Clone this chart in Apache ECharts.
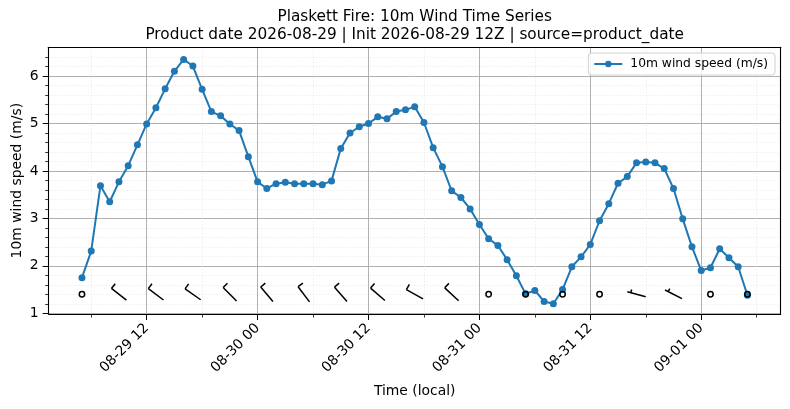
<!DOCTYPE html>
<html>
<head>
<meta charset="utf-8">
<script src="https://cdn.jsdelivr.net/npm/echarts@6/dist/echarts.min.js"></script>
<style>
  html, body { margin: 0; padding: 0; background: #fff; }
  #chart { width: 790px; height: 409px; }
</style>
</head>
<body>
<div id="chart"></div>
<script>
// Plaskett Fire 10m wind: hourly speed line + 4-hourly wind barbs

const titleLines = [
    'Plaskett Fire: 10m Wind Time Series',
    'Product date 2026-08-29 | Init 2026-08-29 12Z | source=product_date',
];

// hourly samples, first one at 2026-08-29 05:00 local
const speedStart = '2026-08-29 05:00';
const speeds = [
    1.75, 2.31, 3.69, 3.35, 3.77, 4.11, 4.55, 4.99, 5.33, 5.73, 6.10, 6.35, 6.21, 5.72, 5.25, 5.16, 4.99, 4.85, 4.30,
    3.77, 3.63, 3.73, 3.76, 3.73, 3.73, 3.73, 3.71, 3.79, 4.47, 4.80, 4.93, 5.00, 5.14, 5.10, 5.25, 5.29, 5.35, 5.02, 4.49, 4.09, 3.58, 3.44, 3.20,
    2.87, 2.57, 2.43, 2.13, 1.79, 1.41, 1.48, 1.25, 1.20, 1.50, 1.98, 2.19, 2.45, 2.95, 3.31, 3.74, 3.88, 4.17, 4.19, 4.17, 4.05, 3.63, 2.99, 2.40,
    1.90, 1.96, 2.36, 2.17, 1.98, 1.38,
];

// wind barbs: time, direction wind comes from (deg), barb speed (kt)
const barbTimes = [
    '2026-08-29 05:00', '2026-08-29 09:00', '2026-08-29 13:00', '2026-08-29 17:00', '2026-08-29 21:00',
    '2026-08-30 01:00', '2026-08-30 05:00', '2026-08-30 09:00', '2026-08-30 13:00', '2026-08-30 17:00', '2026-08-30 21:00',
    '2026-08-31 01:00', '2026-08-31 05:00', '2026-08-31 09:00', '2026-08-31 13:00', '2026-08-31 17:00', '2026-08-31 21:00',
    '2026-09-01 01:00', '2026-09-01 05:00',
];
const barbDirs = [0, 308, 307, 305, 315, 320, 323, 319, 311, 299, 313, 0, 0, 0, 0, 285, 297, 0, 0];
const barbKts  = [0, 10, 10, 10, 10, 10, 10, 10, 10, 10, 10, 0, 0, 0, 0, 5, 5, 0, 0];
const barbLevel = 1.4;

// axis extents (local time) and ticks
const xRange = ['2026-08-29 01:24', '2026-09-01 08:36'];
const xMajor = ['2026-08-29 12:00', '2026-08-30 00:00', '2026-08-30 12:00', '2026-08-31 00:00', '2026-08-31 12:00', '2026-09-01 00:00'];
const xMinor = ['2026-08-29 06:00', '2026-08-29 18:00', '2026-08-30 06:00', '2026-08-30 18:00', '2026-08-31 06:00', '2026-08-31 18:00', '2026-09-01 06:00'];
const yRange = [0.985, 6.605];
const yMajor = [1, 2, 3, 4, 5, 6];
const yMinor = [1.2, 1.4, 1.6, 1.8, 2.2, 2.4, 2.6, 2.8, 3.2, 3.4, 3.6, 3.8, 4.2, 4.4, 4.6, 4.8, 5.2, 5.4, 5.6, 5.8, 6.2, 6.4];

const ORIGIN = Date.UTC(2026, 7, 29, 0, 0);
function hoursOf(s) {
    const [d, t] = s.split(' ');
    const [Y, M, D] = d.split('-').map(Number);
    const [h, m] = t.split(':').map(Number);
    return (Date.UTC(Y, M - 1, D, h, m) - ORIGIN) / 3600000;
}
function tickLabel(h) {
    const d = new Date(ORIGIN + h * 3600000);
    const p = n => String(n).padStart(2, '0');
    return `${p(d.getUTCMonth() + 1)}-${p(d.getUTCDate())} ${p(d.getUTCHours())}`;
}

const t0 = hoursOf(speedStart);
const lineData = speeds.map((v, i) => [t0 + i, v]);
const barbData = barbTimes.map((t, i) => [hoursOf(t), barbLevel, barbDirs[i], barbKts[i]]);

const FONT = 'DejaVu Sans';
const BARB_LEN = 19;

function renderBarb(params, api) {
    const c = api.coord([api.value(0), api.value(1)]);
    const dir = api.value(2) * Math.PI / 180;
    const kt = api.value(3);
    const style = { stroke: '#000', lineWidth: 1.5, fill: null };
    if (kt < 5) {
        return { type: 'circle', shape: { cx: c[0], cy: c[1], r: 2.7 }, style: style };
    }
    const L = BARB_LEN;
    const u = [Math.sin(dir), -Math.cos(dir)];   // toward tail (wind source)
    const n = [Math.cos(dir), Math.sin(dir)];    // barb side
    const tail = [c[0] + u[0] * L / 2, c[1] + u[1] * L / 2];
    const tip = [c[0] - u[0] * L / 2, c[1] - u[1] * L / 2];
    const kids = [{ type: 'line', shape: { x1: tip[0], y1: tip[1], x2: tail[0], y2: tail[1] }, style: style }];
    const full = Math.floor(kt / 10);
    const half = (kt % 10) >= 5;
    let off = 0;
    for (let i = 0; i < full; i++) {
        const s = [tail[0] - u[0] * off, tail[1] - u[1] * off];
        kids.push({ type: 'line', shape: {
            x1: s[0], y1: s[1],
            x2: s[0] + n[0] * 0.32 * L,
            y2: s[1] + n[1] * 0.32 * L,
        }, style: style });
        off += 0.125 * L;
    }
    if (half) {
        if (full === 0) off += 0.1875 * L;
        const s = [tail[0] - u[0] * off, tail[1] - u[1] * off];
        kids.push({ type: 'line', shape: {
            x1: s[0], y1: s[1],
            x2: s[0] + n[0] * 0.18 * L,
            y2: s[1] + n[1] * 0.18 * L,
        }, style: style });
    }
    return { type: 'group', children: kids };
}

const chart = echarts.init(document.getElementById('chart'), null, { renderer: 'canvas' });
const xMin = hoursOf(xRange[0]), xMax = hoursOf(xRange[1]);

chart.setOption({
    animation: false,
    backgroundColor: '#fff',
    textStyle: { fontFamily: FONT },
    graphic: [
        { type: 'text', x: 414.7, y: 17, style: { text: titleLines[0], font: `15.3px "${FONT}"`, fill: '#000', textAlign: 'center', textVerticalAlign: 'middle' } },
        { type: 'text', x: 414.7, y: 35, style: { text: titleLines[1], font: `15.3px "${FONT}"`, fill: '#000', textAlign: 'center', textVerticalAlign: 'middle' } },
    ],
    grid: { left: 48.7, right: 9.3, top: 47.3, bottom: 95, containLabel: false, outerBoundsMode: 'none', show: false },
    legend: {
        right: 15, top: 53,
        itemWidth: 28, itemHeight: 8, itemGap: 6,
        padding: [5, 7, 5, 5],
        borderColor: '#d0d0d0', borderWidth: 1, borderRadius: 3,
        backgroundColor: 'rgba(255,255,255,0.8)',
        textStyle: { fontFamily: FONT, fontSize: 12.3, color: '#000', padding: [0, 0, 0, 3] },
        data: ['10m wind speed (m/s)'],
    },
    xAxis: [{
        type: 'value', min: xMin, max: xMax,
        name: 'Time (local)', nameLocation: 'middle', nameGap: 70,
        nameTextStyle: { fontFamily: FONT, fontSize: 13.9, color: '#000' },
        axisLine: { show: true, onZero: false, lineStyle: { color: '#000', width: 1.1 } },
        axisTick: { show: true, length: 6, lineStyle: { color: '#000', width: 1 }, customValues: xMajor.map(hoursOf) },
        axisLabel: { show: true, rotate: 45, margin: 12, fontFamily: FONT, fontSize: 13.9, color: '#000',
            customValues: xMajor.map(hoursOf), formatter: v => tickLabel(v) },
        splitLine: { show: true, lineStyle: { color: '#a8a8a8', width: 0.9 } },
    }, {
        type: 'value', min: xMin, max: xMax, position: 'bottom', offset: 0,
        axisLine: { show: false },
        axisTick: { show: true, length: 3.5, lineStyle: { color: '#000', width: 0.8 }, customValues: xMinor.map(hoursOf) },
        axisLabel: { show: false },
        splitLine: { show: true, lineStyle: { color: '#dedede', width: 0.7, type: [1, 2] } },
    }, {
        type: 'value', min: xMin, max: xMax, position: 'top', offset: 0,
        axisLine: { show: true, lineStyle: { color: '#000', width: 1.1 } },
        axisTick: { show: false }, axisLabel: { show: false }, splitLine: { show: false },
    }],
    yAxis: [{
        type: 'value', min: yRange[0], max: yRange[1],
        name: '10m wind speed (m/s)', nameLocation: 'middle', nameGap: 24, nameRotate: 90,
        nameMoveOverlap: false,
        nameTextStyle: { fontFamily: FONT, fontSize: 13.9, color: '#000' },
        axisLine: { show: true, onZero: false, lineStyle: { color: '#000', width: 1.1 } },
        axisTick: { show: true, length: 6, lineStyle: { color: '#000', width: 1 }, customValues: yMajor },
        axisLabel: { show: true, margin: 10, fontFamily: FONT, fontSize: 13.9, color: '#000', customValues: yMajor },
        splitLine: { show: true, lineStyle: { color: '#a8a8a8', width: 0.9 } },
    }, {
        type: 'value', min: yRange[0], max: yRange[1], position: 'left', offset: 0,
        axisLine: { show: false },
        axisTick: { show: true, length: 3.5, lineStyle: { color: '#000', width: 0.8 }, customValues: yMinor },
        axisLabel: { show: false },
        splitLine: { show: true, lineStyle: { color: '#dedede', width: 0.7, type: [1, 2] } },
    }, {
        type: 'value', min: yRange[0], max: yRange[1], position: 'right', offset: 0,
        axisLine: { show: true, lineStyle: { color: '#000', width: 1.1 } },
        axisTick: { show: false }, axisLabel: { show: false }, splitLine: { show: false },
    }],
    series: [{
        name: '10m wind speed (m/s)',
        type: 'line',
        xAxisIndex: 0, yAxisIndex: 0,
        data: lineData,
        symbol: 'circle', symbolSize: 7,
        lineStyle: { color: '#1f77b4', width: 2 },
        itemStyle: { color: '#1f77b4' },
        z: 3,
    }, {
        name: 'barbs',
        type: 'custom',
        xAxisIndex: 0, yAxisIndex: 0,
        data: barbData,
        renderItem: renderBarb,
        z: 5,
        silent: true,
    }],
});
</script>
</body>
</html>
